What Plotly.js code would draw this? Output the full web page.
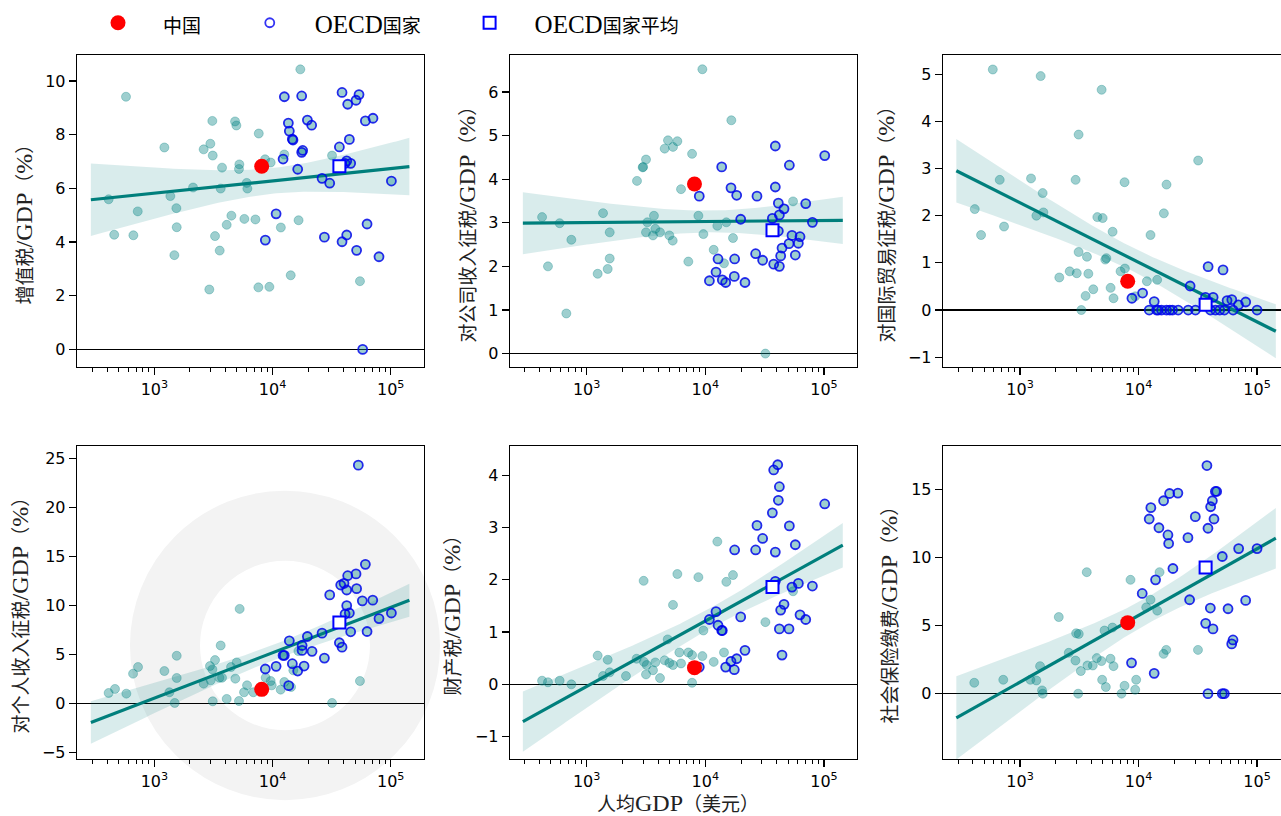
<!DOCTYPE html>
<html><head><meta charset="utf-8">
<script src="https://cdn.plot.ly/plotly-3.0.1.min.js"></script>
<style>html,body{margin:0;padding:0;background:#fff;} #chart{width:1281px;height:816px;}</style>
</head><body><div id="chart"></div>
<script>
// ---------------- data (GDP per capita in USD, tax / GDP in %) ----------------
const yTitles = ['增值税/GDP（%）', '对公司收入征税/GDP（%）', '对国际贸易征税/GDP（%）',
                 '对个人收入征税/GDP（%）', '财产税/GDP（%）', '社会保险缴费/GDP（%）'];
const xTitle = '人均GDP（美元）';
const legendNames = ['中国', 'OECD国家', 'OECD国家平均'];
const xTickVals = [1e3, 1e4, 1e5];
const xTickText = ['10<sup>3</sup>', '10<sup>4</sup>', '10<sup>5</sup>'];
const fitRange = [290, 144000];

const chinaGdp = 8100;
const chinaVals = [6.82, 3.89, 0.61, 1.42, 0.32, 5.21];
const oecdAvgGdp = 36800;
const oecdAvgVals = [6.82, 2.83, 0.11, 8.25, 1.86, 9.25];

// 1 增值税
const vatNonX = [575,410,457,664,723,1215,1365,1535,1545,1476,2125,2612,2976,3093,3117,2917,3260,3571,3641,3738,4093,4484,4818,4942,5238,5200,5775,6044,6124,7163,7645,7590,8646,9404,9643,11760,12580,14250,17190,16610,31900,54950];
const vatNonY = [9.41,5.59,4.27,4.25,5.14,7.52,5.71,5.26,4.55,3.51,6.03,7.45,7.66,8.51,7.22,2.23,4.22,3.68,5.99,6.77,4.64,4.98,8.49,8.34,6.89,6.72,4.86,6.2,5.99,4.84,8.04,2.31,7.08,2.33,6.96,4.54,7.26,2.76,10.43,4.81,7.22,2.54];
const vatOecdX = [12590,17650,13610,13870,14710,14900,19720,21440,18000,17650,12280,16330,10720,8690,26250,30480,36800,38750,43260,44690,42450,41100,45860,50900,53950,61070,70830,101400,27480,38750,42450,51480,63100,79630,57940];
const vatOecdY = [9.41,9.44,8.43,8.13,7.83,7.8,8.54,8.35,7.41,7.34,7.09,6.71,5.05,4.07,6.37,6.19,7.54,9.57,9.13,7.82,7.02,6.93,6.93,9.28,9.49,8.51,8.61,6.27,4.18,4.01,4.26,3.69,4.67,3.45,0];

// 2 对公司收入征税
const citNonX = [421,472,592,743,674,1238,1374,1504,1564,1564,2655,2965,2990,3163,3163,3245,3622,3690,3790,4150,4545,4846,5340,5810,4973,5310,6240,7190,7730,8740,9630,9440,11760,12620,14360,15030,16560,17100,32070,54830];
const citNonY = [3.13,2.0,2.99,2.61,0.92,1.83,3.22,1.94,2.18,2.78,3.96,4.27,4.28,4.45,2.78,3.01,2.71,3.16,2.86,2.78,4.7,4.89,4.74,4.87,2.71,2.59,3.77,2.11,4.58,3.16,2.74,6.52,2.38,2.93,2.07,3.01,5.35,2.65,0.0,3.49];
const citOecdX = [8890,13740,16450,18370,19860,12790,17660,12300,10820,13900,14840,17540,21580,27240,26540,30400,38880,38880,41230,46030,42060,36700,41230,37670,42060,43140,44280,51050,50700,53700,57300,62790,60790,70140,79830,101400];
const citOecdY = [3.61,4.28,3.8,3.63,3.08,2.17,2.17,1.87,1.67,1.69,1.63,1.77,1.63,3.61,2.29,2.14,4.76,3.82,3.45,3.32,3.18,3.1,2.81,2.05,2.0,2.24,2.42,4.32,2.52,2.71,2.26,2.68,2.53,3.44,3.01,4.54];

// 3 对国际贸易征税
const tradeNonX = [589,1493,4880,3120,31850,674,1238,1552,2944,7620,17220,16350,415,469,733,1374,1574,4490,4980,6040,12620,3120,3670,5240,5350,7670,7050,2625,3010,3770,2145,4150,3575,5810,6150,3290,11760,14360,9370];
const tradeNonY = [5.1,4.96,4.67,3.72,3.17,2.76,2.79,2.48,2.76,2.71,2.66,2.05,2.14,1.59,1.77,2.0,2.07,1.97,1.95,1.66,1.59,1.23,1.13,1.07,1.1,0.88,0.82,0.82,0.78,0.77,0.69,0.44,0.3,0.47,0.25,0.0,0.61,0.64,0.29];
const tradeOecdX = [8790,10820,13560,12300,14190,15630,17220,18370,19340,21600,26250,30220,27240,38640,51630,36700,42600,40470,44590,48450,53030,55830,61200,62790,69700,80200,100000,14650];
const tradeOecdY = [0.25,0.36,0.18,0,0,0,0,0,0,0,0,0,0.51,0.92,0.85,0.27,0.27,0,0,0,0,0.2,0.22,0,0.11,0.17,0,0];

// 4 对个人收入征税
const pitNonX = [410,464,579,660,727,1215,1340,1486,1545,1545,2612,2955,2998,3096,3117,3260,3548,3738,3641,4093,4455,4842,4973,5200,5270,5740,6085,6880,8750,9643,9840,11720,12580,14350,15000,16550,31900,54950];
const pitNonY = [1.05,1.46,0.98,3.02,3.7,3.29,1.12,0.03,2.58,4.85,2.0,3.8,2.34,3.46,0.2,4.41,2.61,2.61,5.9,0.44,3.7,2.51,4.17,0.23,9.64,1.12,1.83,1.12,2.61,2.27,1.83,1.39,2.17,1.66,3.36,5.33,0.03,2.27];
const pitOecdX = [8690,10720,12280,12580,13870,13700,14710,16330,17800,17800,18490,19720,21600,26250,27480,30480,36800,38750,37760,40270,43260,42450,42450,41100,44690,45860,50900,51480,53220,57540,61070,63100,70510,79630,101400];
const pitOecdY = [3.5,3.77,4.89,4.89,6.38,1.8,4.04,3.29,5.9,5.4,3.8,6.82,5.3,7.16,4.61,11.07,6.18,5.73,12.08,12.25,13.03,11.57,9.97,9.12,9.22,7.3,13.21,11.71,24.32,10.46,14.19,7.33,10.53,8.65,9.22];

// 5 财产税
const propNonX = [421,472,592,743,1238,1504,1374,1564,2144,2635,3020,3040,3203,3163,3622,3790,4150,4545,4818,4973,5340,5340,5810,6040,6240,7190,7730,7730,8740,9440,9630,11760,12620,14360,15030,17100,32070,54830];
const propNonY = [0.07,0.04,0.07,0.0,0.55,0.47,0.16,0.23,0.16,0.49,1.98,0.43,0.37,0.19,0.27,0.42,0.12,0.46,0.86,0.41,0.37,1.52,2.11,0.61,0.4,0.61,0.56,0.03,2.05,0.54,1.03,0.43,2.73,0.61,1.96,2.09,1.19,1.78];
const propOecdX = [8890,10820,12300,12790,13740,13900,14840,16450,17540,18370,17660,19860,21580,26540,27240,30400,36700,37670,40740,42060,41230,38880,38880,43140,46030,42060,44280,51050,50700,53700,57300,60790,62790,70140,79830,101400];
const propOecdY = [0.33,1.24,1.39,1.13,1.03,1.03,0.33,0.44,0.28,0.49,2.57,1.29,0.65,2.57,3.04,2.79,3.28,4.1,4.2,3.78,3.52,2.53,1.97,1.42,1.53,1.06,0.56,3.03,1.06,1.86,2.67,1.93,1.33,1.24,1.88,3.45];

// 6 社会保险缴费
const ssNonX = [411,722,1223,1373,1476,1534,1555,2123,2578,2935,2975,3130,3093,3258,3656,3706,4110,4443,4866,4930,5163,5297,5800,6147,6026,7180,7617,8555,9370,9550,11610,12620,14380,15040,16270,17130,31730];
const ssNonY = [0.8,1.02,1.02,0.97,2.02,0.24,0,5.62,3.0,2.43,4.43,4.38,0,1.66,8.91,2.07,2.07,2.61,2.39,1.02,4.63,0.49,2.56,2.02,4.85,0,0.58,8.35,0.29,1.02,6.33,6.89,6.09,8.91,2.92,3.21,3.21];
const ssOecdX = [8725,10740,13550,13920,12300,12700,14860,16270,17700,17950,18280,21480,19500,26110,26970,30130,37760,38520,40580,41950,43320,44490,45640,36830,40340,42470,38520,50890,52940,50890,56900,61120,62680,69930,80110,100000];
const ssOecdY = [2.26,7.35,1.49,8.35,12.81,13.64,12.17,14.15,11.64,11.01,14.68,14.71,9.18,11.44,6.89,12.98,16.73,12.13,13.71,14.15,12.81,14.83,14.83,5.16,6.28,4.75,0,0,0,10.06,6.23,3.65,3.94,10.64,6.84,10.64];

const yTickSets = [[0,2,4,6,8,10],[0,1,2,3,4,5,6],[-1,0,1,2,3,4,5],[-5,0,5,10,15,20,25],[-1,0,1,2,3,4],[0,5,10,15]];

// ---------------- layout config ----------------
const panelData = [
  [vatNonX, vatNonY, vatOecdX, vatOecdY],
  [citNonX, citNonY, citOecdX, citOecdY],
  [tradeNonX, tradeNonY, tradeOecdX, tradeOecdY],
  [pitNonX, pitNonY, pitOecdX, pitOecdY],
  [propNonX, propNonY, propOecdX, propOecdY],
  [ssNonX, ssNonY, ssOecdX, ssOecdY]
];
const W = 1281, H = 816;
const colPx = [[77,424],[510,857],[943,1281]];
const rowPx = [[53,366],[445,759]];
const xRanges = [[2.345,5.282],[2.354,5.278],[2.35,5.202]];
const yRanges = [[-0.66,10.97],[-0.31,6.85],[-1.21,5.41],[-5.71,26.29],[-1.43,4.56],[-4.8,18.17]];
const titlePos = [[24,218],[467,218],[886,218],[20,610],[452,610],[889,610]];

const TEAL = '#007f7c';
const serif = 'Liberation Serif, Noto Sans CJK SC, serif';
const LATIN_PX = 24, CJK_PX = 19;
const LEG_LATIN_PX = 25, LEG_CJK_PX = 19;

// wrap CJK runs in a smaller span (Latin parts use the larger serif size)
function mixText(str, cjkPx) {
  return str.replace(/([\u3000-\u9fff\uff00-\uffef]+)/g, '<span style="font-size:' + cjkPx + 'px">$1</span>');
}

function fitLine(xs, ys) {
  const lx = xs.map(v => Math.log10(v));
  const n = lx.length;
  const mx = lx.reduce((a,b)=>a+b,0)/n;
  const my = ys.reduce((a,b)=>a+b,0)/n;
  let sxx = 0, sxy = 0;
  for (let i=0;i<n;i++){ sxx += (lx[i]-mx)**2; sxy += (lx[i]-mx)*(ys[i]-my); }
  const b = sxy/sxx, a = my - b*mx;
  let sse = 0;
  for (let i=0;i<n;i++){ sse += (ys[i]-(a+b*lx[i]))**2; }
  const s = Math.sqrt(sse/(n-2));
  return {a,b,s,n,mx,sxx};
}

const NB = '\u00a0';
const legendLabel = name => NB.repeat(4) + mixText(name, LEG_CJK_PX) + NB.repeat(7);

const traces = [];
const layout = {
  width: W, height: H,
  margin: {l:0,r:0,t:0,b:0},
  paper_bgcolor: '#fff', plot_bgcolor: 'rgba(0,0,0,0)',
  showlegend: true,
  legend: {orientation:'h', x: 98/W, y: 1-21/H, xanchor:'left', yanchor:'middle',
           font:{family: serif, size:LEG_LATIN_PX, color:'#000'}, bgcolor:'rgba(0,0,0,0)'},
  annotations: [],
  // faint watermark ring behind the lower-left panel
  shapes: [{type:'circle', xref:'paper', yref:'paper', layer:'below',
            x0:(285-120)/W, x1:(285+120)/W, y0:1-(645+120)/H, y1:1-(645-120)/H,
            line:{color:'#f3f3f3', width:70}, fillcolor:'rgba(0,0,0,0)'}],
  font: {family:'DejaVu Sans', color:'#000'}
};

for (let p=0;p<6;p++){
  const s = p===0 ? '' : String(p+1);
  const col = p%3, row = Math.floor(p/3);
  const [nX, nY, oX, oY] = panelData[p];
  const xa = 'x'+s, ya = 'y'+s;
  const allX = nX.concat(oX, [chinaGdp]);
  const allY = nY.concat(oY, [chinaVals[p]]);
  const f = fitLine(allX, allY);
  const t = 1.99;
  const l0 = Math.log10(fitRange[0]), l1 = Math.log10(fitRange[1]);
  const gx = [], gy = [], up = [], lo = [];
  const N = 120;
  for (let i=0;i<=N;i++){
    const lv = l0 + (l1-l0)*i/N;
    const yhat = f.a + f.b*lv;
    const se = f.s*Math.sqrt(1/f.n + (lv-f.mx)**2/f.sxx);
    gx.push(Math.pow(10,lv)); gy.push(yhat); up.push(yhat+t*se); lo.push(yhat-t*se);
  }
  traces.push({type:'scatter', mode:'lines', x: gx.concat(gx.slice().reverse()), y: up.concat(lo.slice().reverse()),
    fill:'toself', fillcolor:'rgba(0,128,128,0.15)', line:{width:0, color:'rgba(0,0,0,0)'},
    xaxis:xa, yaxis:ya, showlegend:false, hoverinfo:'skip'});
  traces.push({type:'scatter', mode:'lines', x: gx, y: gy, line:{color:TEAL, width:3.2},
    xaxis:xa, yaxis:ya, showlegend:false, hoverinfo:'skip'});
  traces.push({type:'scatter', mode:'markers', x: allX, y: allY,
    marker:{size:9, color:'rgba(0,128,128,0.38)', line:{width:1, color:'rgba(0,128,128,0.3)'}},
    xaxis:xa, yaxis:ya, showlegend:false});
  traces.push({type:'scatter', mode:'markers', x: oX, y: oY, name: legendLabel(legendNames[1]),
    marker:{symbol:'circle-open', size:9, color:'rgba(0,0,240,0.8)', line:{width:1.8}},
    xaxis:xa, yaxis:ya, showlegend: p===0, legendgroup:'oecd', legendrank:2});
  traces.push({type:'scatter', mode:'markers', x: [chinaGdp], y: [chinaVals[p]], name: legendLabel(legendNames[0]),
    marker:{symbol:'circle', size:15, color:'#ff0000'},
    xaxis:xa, yaxis:ya, showlegend: p===0, legendgroup:'china', legendrank:1});
  traces.push({type:'scatter', mode:'markers', x: [oecdAvgGdp], y: [oecdAvgVals[p]], name: legendLabel(legendNames[2]),
    marker:{symbol:'square', size:12, color:'#ffffff', line:{color:'#0000ff', width:2}},
    xaxis:xa, yaxis:ya, showlegend: p===0, legendgroup:'avg', legendrank:3});

  const xd = [colPx[col][0]/W, Math.min(1, colPx[col][1]/W)];
  const yd = [1-rowPx[row][1]/H, 1-rowPx[row][0]/H];
  layout['xaxis'+s] = {domain: xd, anchor: ya, type:'log', range: xRanges[col],
    tickmode:'array', tickvals: xTickVals, ticktext: xTickText,
    ticks:'outside', ticklen:7, tickwidth:1.2, tickcolor:'#000',
    showline:true, mirror:true, linecolor:'#000', linewidth:1.3,
    showgrid:false, zeroline:false,
    tickfont:{family:'DejaVu Sans', size:16, color:'#000'},
    minor:{ticks:'outside', ticklen:3.5, tickwidth:1, tickcolor:'#000', dtick:'D1', showgrid:false}};
  layout['yaxis'+s] = {domain: yd, anchor: xa, range: yRanges[p],
    tickmode:'array', tickvals: yTickSets[p],
    ticks:'outside', ticklen:7, tickwidth:1.2, tickcolor:'#000',
    showline:true, mirror:true, linecolor:'#000', linewidth:1.3,
    showgrid:false, zeroline:true, zerolinecolor:'#000', zerolinewidth:1.4,
    tickfont:{family:'DejaVu Sans', size:16, color:'#000'}};
  layout.annotations.push({text: mixText(yTitles[p], CJK_PX), xref:'paper', yref:'paper',
    x: titlePos[p][0]/W, y: 1-titlePos[p][1]/H, xanchor:'center', yanchor:'middle',
    textangle:-90, showarrow:false, font:{family: serif, size:LATIN_PX, color:'#222'}});
}
layout.annotations.push({text: mixText(xTitle, CJK_PX), xref:'paper', yref:'paper', x: 678/W, y: 1-803/H,
  xanchor:'center', yanchor:'middle', showarrow:false, font:{family: serif, size:LATIN_PX, color:'#222'}});

Plotly.newPlot('chart', traces, layout, {displayModeBar:false, staticPlot:true});
</script>
</body></html>
